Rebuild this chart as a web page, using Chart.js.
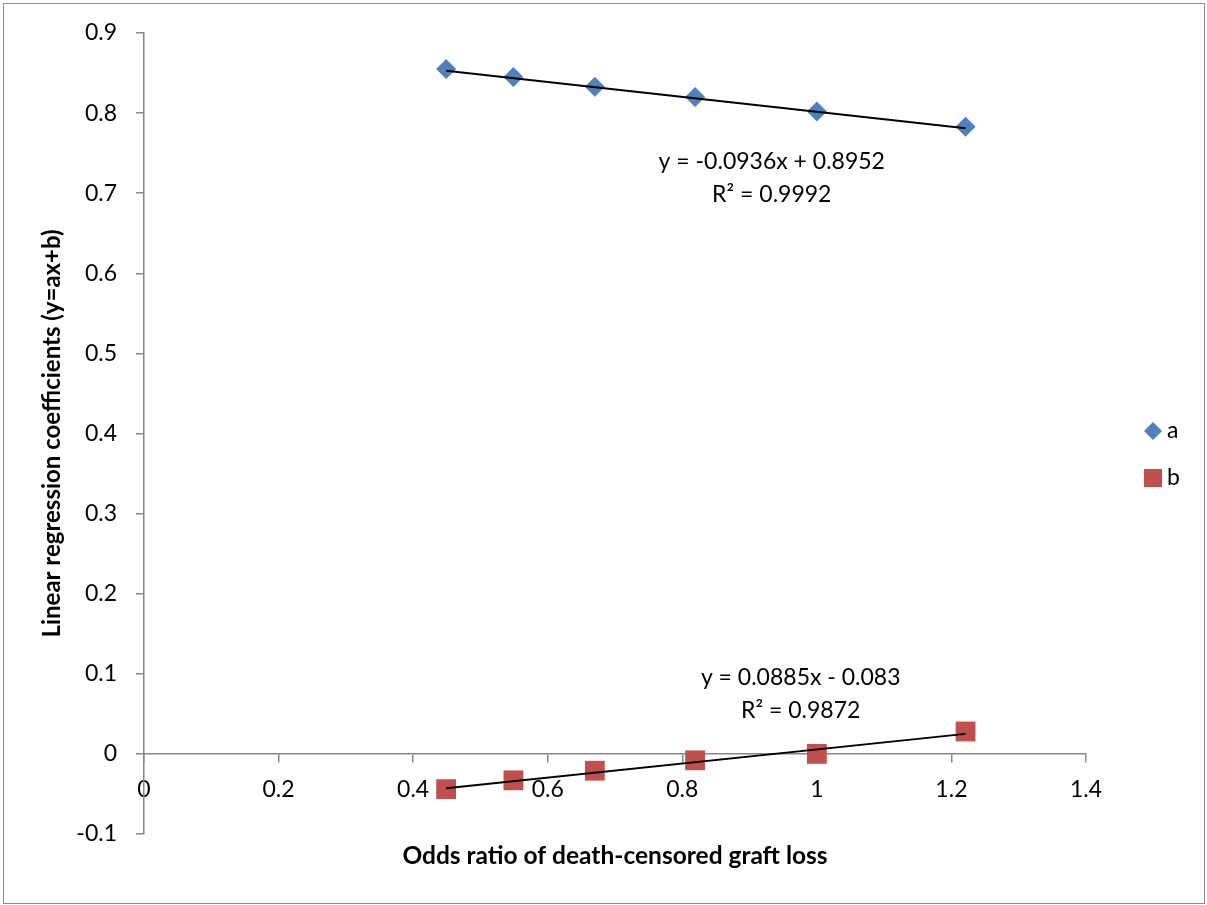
<!DOCTYPE html>
<html>
<head>
<meta charset="utf-8">
<script src="https://cdn.jsdelivr.net/npm/chart.js@4.4.0/dist/chart.umd.min.js"></script>
<style>
  html, body { margin: 0; padding: 0; background: #fff; }
  canvas { display: block; }
</style>
</head>
<body>
<canvas id="chart" width="1207" height="905"></canvas>
<script>
// data
const oddsRatio = [0.449, 0.549, 0.670, 0.819, 1.000, 1.221];
const coefA = [0.855, 0.845, 0.833, 0.820, 0.802, 0.783];
const coefB = [-0.044, -0.033, -0.021, -0.008, 0.000, 0.028];

// trend lines (end points, as drawn)
const trendX = [0.449, 1.221];
const trendA = [0.853, 0.781];
const trendB = [-0.043, 0.025];

const seriesNames = ['a', 'b'];
const eqA = ['y = -0.0936x + 0.8952', 'R\u00b2 = 0.9992'];
const eqB = ['y = 0.0885x - 0.083', 'R\u00b2 = 0.9872'];

const FONT = 'Lato';
const AXIS_GREY = '#878787';
const BLUE = '#4F81BD';
const RED = '#C0504D';

const toPoints = (xs, ys) => xs.map((x, i) => ({ x, y: ys[i] }));
const fmt = v => String(Number(v.toFixed(1)));

// equation labels, anchored in data units
const equations = [
    { lines: eqA, x: 0.933, y: 0.740 },
    { lines: eqB, x: 0.976, y: 0.095 }
];

const equationPlugin = {
    id: 'equations',
    afterDatasetsDraw(chart) {
        const { ctx, scales: { x, y } } = chart;
        ctx.save();
        ctx.font = '23px ' + FONT;
        ctx.fillStyle = '#000';
        ctx.textAlign = 'center';
        ctx.textBaseline = 'middle';
        equations.forEach(eq => {
            const px = x.getPixelForValue(eq.x);
            const py = y.getPixelForValue(eq.y);
            eq.lines.forEach((t, i) => ctx.fillText(t, px, py + i * 33));
        });
        ctx.restore();
    }
};

// legend on the right side + outer frame
const sideLegend = {
    id: 'sideLegend',
    afterDraw(chart) {
        const { ctx } = chart;
        const items = chart.data.datasets.filter(d => d.inLegend);
        ctx.save();
        items.forEach((ds, i) => {
            const cx = 1153, cy = 431 + i * 47;
            ctx.fillStyle = ds.backgroundColor;
            ctx.beginPath();
            if (ds.pointStyle === 'rectRot') {
                ctx.moveTo(cx - 9, cy);
                ctx.lineTo(cx, cy - 9);
                ctx.lineTo(cx + 9, cy);
                ctx.lineTo(cx, cy + 9);
                ctx.closePath();
            } else {
                ctx.rect(cx - 9, cy - 9, 18, 18);
            }
            ctx.fill();
            ctx.fillStyle = '#000';
            ctx.font = '23px ' + FONT;
            ctx.textAlign = 'left';
            ctx.textBaseline = 'middle';
            ctx.fillText(ds.label, 1167, cy);
        });
        ctx.strokeStyle = '#8c8c8c';
        ctx.lineWidth = 1;
        ctx.strokeRect(3.5, 3.5, 1201, 900);
        ctx.restore();
    }
};

new Chart(document.getElementById('chart'), {
    type: 'scatter',
    data: {
        datasets: [
            {
                label: 'trend a',
                data: toPoints(trendX, trendA),
                showLine: true,
                borderColor: '#000',
                borderWidth: 2,
                pointRadius: 0,
                order: 0
            },
            {
                label: 'trend b',
                data: toPoints(trendX, trendB),
                showLine: true,
                borderColor: '#000',
                borderWidth: 2,
                pointRadius: 0,
                order: 0
            },
            {
                label: seriesNames[0],
                data: toPoints(oddsRatio, coefA),
                inLegend: true,
                pointStyle: 'rectRot',
                pointRadius: 10,
                backgroundColor: BLUE,
                borderWidth: 0,
                order: 1
            },
            {
                label: seriesNames[1],
                data: toPoints(oddsRatio, coefB),
                inLegend: true,
                pointStyle: 'rect',
                pointRadius: 14,
                backgroundColor: RED,
                borderWidth: 0,
                order: 1
            }
        ]
    },
    options: {
        responsive: false,
        animation: false,
        layout: { padding: { left: 10, right: 121, top: 33, bottom: 71 } },
        plugins: {
            legend: { display: false },
            tooltip: { enabled: false }
        },
        scales: {
            x: {
                type: 'linear',
                min: 0,
                max: 1.4,
                position: { y: 0 },
                ticks: { stepSize: 0.2, callback: fmt, color: '#000', font: { family: FONT, size: 23 }, padding: 14, maxRotation: 0 },
                grid: { drawOnChartArea: false, tickLength: 8, color: AXIS_GREY, lineWidth: 1.5 },
                border: { color: AXIS_GREY, width: 1.5 },
                title: {
                    display: true,
                    text: 'Odds ratio of death-censored graft loss',
                    color: '#000',
                    font: { family: FONT, size: 24.5, weight: 'bold' },
                    padding: { top: 24, bottom: 0 }
                }
            },
            y: {
                min: -0.1,
                max: 0.9,
                afterFit(scale) { scale.width = 134; },
                ticks: { stepSize: 0.1, callback: fmt, color: '#000', font: { family: FONT, size: 23 }, padding: 19 },
                grid: { drawOnChartArea: false, tickLength: 8, color: AXIS_GREY, lineWidth: 1.5 },
                border: { color: AXIS_GREY, width: 1.5 },
                title: {
                    display: true,
                    text: 'Linear regression coefficients (y=ax+b)',
                    color: '#000',
                    font: { family: FONT, size: 24, weight: 'bold' },
                    padding: { top: 28, bottom: 0 }
                }
            }
        }
    },
    plugins: [equationPlugin, sideLegend]
});
</script>
</body>
</html>
